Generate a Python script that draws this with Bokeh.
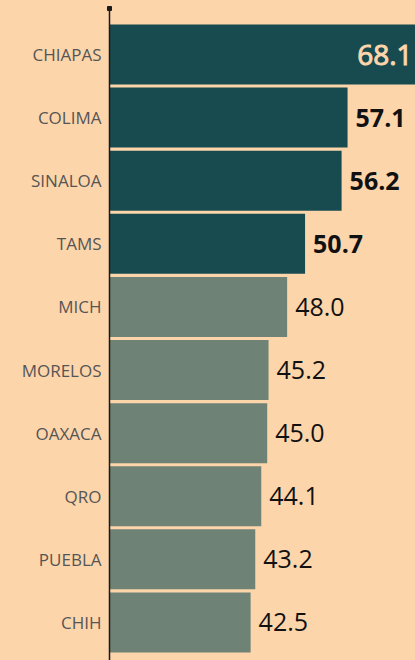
from bokeh.plotting import figure
from bokeh.models import ColumnDataSource, FixedTicker, Range1d
from bokeh.core.properties import value
from bokeh.embed import file_html
from bokeh.resources import INLINE

# ---- data ----
states = ["CHIAPAS", "COLIMA", "SINALOA", "TAMS", "MICH",
          "MORELOS", "OAXACA", "QRO", "PUEBLA", "CHIH"]
values = [68.1, 57.1, 56.2, 50.7, 48.0, 45.2, 45.0, 44.1, 43.2, 42.5]
top_n = 4

BG = "#FDD5AB"
DARK = "#174B50"
GREY = "#6E8276"

idx = list(range(len(states)))
colors = [DARK if i < top_n else GREY for i in idx]
labels = [f"{v:.1f}" for v in values]

inside = dict(x=values[:1], y=idx[:1], t=labels[:1])
outside = dict(
    x=values[1:], y=idx[1:], t=labels[1:],
    style=["bold" if i < top_n else "normal" for i in idx[1:]],
)

src = ColumnDataSource(dict(y=idx, v=values, c=colors))

x0 = 21.25
x1 = 67.33
p = figure(width=415, height=660, output_backend="svg", toolbar_location=None,
           x_range=Range1d(x0, x1),
           y_range=Range1d(len(states) - 0.5 + 0.103, -0.5 - 0.229),
           x_axis_location=None, min_border_left=109, min_border_right=0,
           min_border_top=8, min_border_bottom=0)
p.background_fill_color = BG
p.border_fill_color = BG
p.outline_line_color = None
p.grid.visible = False

p.hbar(y="y", left=x0, right="v", height=0.951, color="c", line_color=None, source=src)

p.text(x="x", y="y", text="t", source=ColumnDataSource(inside),
       text_align="right", text_baseline="middle", x_offset=-8,
       text_font=value("Open Sans"), text_font_size="28px",
       text_font_style="normal", text_color=BG,
       text_outline_color=BG)
p.text(x="x", y="y", text="t", source=ColumnDataSource(outside),
       text_align="left", text_baseline="middle", x_offset=8,
       text_font=value("Open Sans"), text_font_size="25px",
       text_font_style="style", text_color="#111111")

ax = p.yaxis[0]
ax.ticker = FixedTicker(ticks=idx)
ax.major_label_overrides = {i: s for i, s in zip(idx, states)}
ax.major_tick_line_color = None
ax.minor_tick_line_color = None
ax.major_label_standoff = 2
ax.major_label_text_font = "Open Sans"
ax.major_label_text_font_size = "17px"
ax.major_label_text_color = "#555555"
ax.axis_line_color = "#1a1a1a"
ax.axis_line_width = 1.5

p.scatter(x=[x0], y=[p.y_range.end], marker="square", size=4,
          color="#1a1a1a", level="overlay")

html = file_html(p, INLINE)
html = html.replace("</head>", "<style>html,body{background:%s;}</style></head>" % BG, 1)
open("out.html", "w").write(html)
